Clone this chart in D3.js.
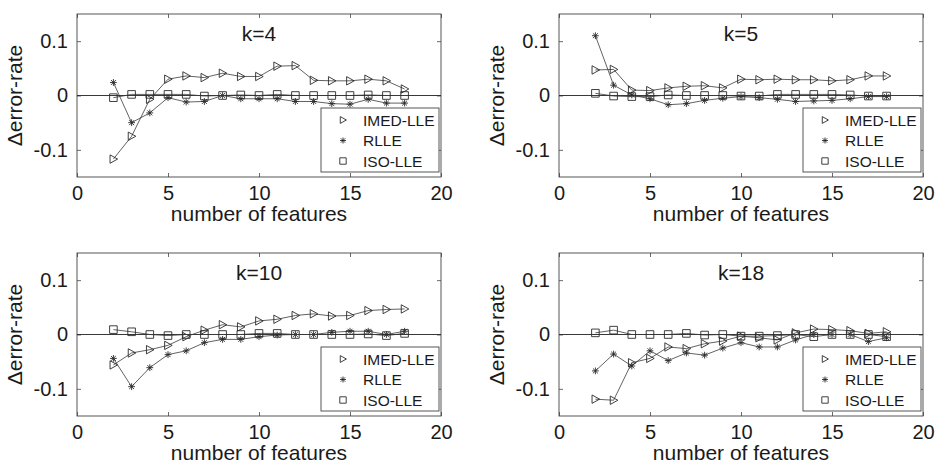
<!DOCTYPE html>
<html>
<head>
<meta charset="utf-8">
<script src="https://cdn.jsdelivr.net/npm/d3@7"></script>
<style>
  html, body { margin: 0; padding: 0; background: #fff; }
  svg { display: block; font-family: "Liberation Sans", Arial, sans-serif; }
</style>
</head>
<body>
<svg id="chart" width="937" height="463"></svg>
<script>
// Number of retained features (x axis), shared by every panel
const featureCounts = [2, 3, 4, 5, 6, 7, 8, 9, 10, 11, 12, 13, 14, 15, 16, 17, 18];

const methodNames = ["IMED-LLE", "RLLE", "ISO-LLE"];
const panelTitles = ["k=4", "k=5", "k=10", "k=18"];

const xTicks = [0, 5, 10, 15, 20];
const yTicks = [-0.1, 0, 0.1];
const yTickLabels = ["-0.1", "0", "0.1"];

// Change in error rate for each method, k = 4
const imedK4 = [-0.117, -0.075, -0.007, 0.030, 0.036, 0.033, 0.041, 0.035, 0.035, 0.054, 0.055, 0.028, 0.027, 0.027, 0.030, 0.027, 0.012];
const rlleK4 = [0.024, -0.050, -0.032, -0.004, -0.012, -0.011, 0.000, -0.006, -0.006, -0.006, -0.011, -0.011, -0.015, -0.016, -0.007, -0.014, -0.014];
const isoK4  = [-0.004, 0.002, 0.002, 0.002, 0.002, -0.001, 0.000, 0.001, 0.000, 0.002, 0.000, 0.000, 0.000, 0.000, 0.001, 0.000, 0.000];

// k = 5
const imedK5 = [0.047, 0.048, 0.010, 0.009, 0.014, 0.017, 0.018, 0.014, 0.030, 0.029, 0.030, 0.029, 0.029, 0.027, 0.029, 0.036, 0.036];
const rlleK5 = [0.110, 0.019, 0.001, -0.006, -0.017, -0.015, -0.009, -0.005, -0.002, -0.004, -0.007, -0.011, -0.010, -0.009, -0.006, -0.002, -0.002];
const isoK5  = [0.004, -0.001, -0.002, -0.002, 0.001, 0.000, 0.000, 0.000, -0.001, -0.001, 0.002, 0.002, 0.002, 0.002, 0.001, -0.001, -0.001];

// k = 10
const imedK10 = [-0.056, -0.034, -0.028, -0.020, -0.004, 0.008, 0.018, 0.014, 0.025, 0.028, 0.035, 0.038, 0.034, 0.035, 0.044, 0.046, 0.047];
const rlleK10 = [-0.044, -0.096, -0.061, -0.037, -0.030, -0.015, -0.009, -0.009, -0.004, -0.001, 0.000, 0.000, 0.004, 0.006, 0.006, 0.000, 0.006];
const isoK10  = [0.009, 0.005, 0.000, -0.002, 0.000, 0.000, 0.000, 0.000, 0.002, 0.002, 0.000, 0.000, 0.000, 0.000, 0.001, -0.002, 0.002];

// k = 18
const imedK18 = [-0.119, -0.121, -0.052, -0.044, -0.023, -0.026, -0.017, -0.012, -0.003, -0.006, -0.010, 0.003, 0.010, 0.009, 0.007, 0.002, 0.005];
const rlleK18 = [-0.067, -0.036, -0.058, -0.030, -0.048, -0.034, -0.038, -0.025, -0.015, -0.023, -0.023, -0.010, 0.000, 0.000, 0.000, -0.013, -0.006];
const isoK18  = [0.003, 0.008, 0.000, 0.000, 0.000, 0.002, -0.001, 0.000, -0.003, -0.003, -0.002, 0.000, -0.004, 0.000, 0.000, 0.000, -0.004];

const panelSeries = [
  [imedK4, rlleK4, isoK4],
  [imedK5, rlleK5, isoK5],
  [imedK10, rlleK10, isoK10],
  [imedK18, rlleK18, isoK18]
];

// Panel placement (plot-area origin of each subplot)
const plotW = 364, plotH = 163;
const origins = [[77, 14], [559, 14], [77, 253], [559, 253]];

const svg = d3.select("#chart");
const ink = "#1a1a1a";
const lineCol = "#3a3a3a";

// Marker path generators
function triRight(s) {
  return `M${-s * 0.8},${-s} L${s},0 L${-s * 0.8},${s} Z`;
}
function asterisk(s) {
  const d = s * 0.72;
  return `M${-s},0 L${s},0 M0,${-s} L0,${s} M${-d},${-d} L${d},${d} M${-d},${d} L${d},${-d}`;
}
function square(s) {
  return `M${-s},${-s} H${s} V${s} H${-s} Z`;
}
const markerPaths = [s => triRight(s), s => asterisk(s), s => square(s)];
const markerSizes = [4.2, 3.4, 3.8];
const legendSizes = [3.4, 3.0, 3.2];

panelSeries.forEach((series, p) => {
  const [ox, oy] = origins[p];
  const g = svg.append("g").attr("transform", `translate(${ox},${oy})`);

  const x = d3.scaleLinear().domain([0, 20]).range([0, plotW]);
  const y = d3.scaleLinear().domain([-0.15, 0.15]).range([plotH, 0]);

  // Inward ticks on all four sides
  const tickLen = 4;
  const axB = d3.axisBottom(x).tickValues(xTicks).tickSize(-tickLen).tickPadding(9).tickFormat(d3.format("d"));
  const axT = d3.axisTop(x).tickValues(xTicks).tickSize(-tickLen).tickFormat("");
  const axL = d3.axisLeft(y).tickValues(yTicks).tickSize(-tickLen).tickPadding(9)
    .tickFormat((d, i) => yTickLabels[i]);
  const axR = d3.axisRight(y).tickValues(yTicks).tickSize(-tickLen).tickFormat("");

  const styleAxis = sel => {
    sel.select(".domain").remove();
    sel.selectAll(".tick line").attr("stroke", "#444").attr("stroke-width", 0.8);
    sel.selectAll(".tick text").attr("fill", ink).attr("font-size", 20)
      .attr("font-family", "'Liberation Sans', Arial, sans-serif");
  };
  g.append("g").attr("transform", `translate(0,${plotH})`).call(axB).call(styleAxis);
  g.append("g").call(axT).call(styleAxis);
  g.append("g").call(axL).call(styleAxis);
  g.append("g").attr("transform", `translate(${plotW},0)`).call(axR).call(styleAxis);

  // Plot frame
  g.append("rect").attr("width", plotW).attr("height", plotH)
    .attr("fill", "none").attr("stroke", "#444").attr("stroke-width", 0.9);

  // Zero reference line
  g.append("line").attr("x1", 0).attr("x2", plotW).attr("y1", y(0)).attr("y2", y(0))
    .attr("stroke", "#222").attr("stroke-width", 0.9);

  // Series lines and markers
  const line = d3.line().x((d, i) => x(featureCounts[i])).y(d => y(d));
  series.forEach((vals, s) => {
    g.append("path").datum(vals).attr("d", line)
      .attr("fill", "none").attr("stroke", lineCol).attr("stroke-width", 0.8);
    g.selectAll(null).data(vals).join("path")
      .attr("transform", (d, i) => `translate(${x(featureCounts[i])},${y(d)})`)
      .attr("d", markerPaths[s](markerSizes[s]))
      .attr("fill", "none").attr("stroke", "#2a2a2a").attr("stroke-width", 0.9);
  });

  // Title inside the axes
  g.append("text").attr("x", x(10)).attr("y", 27).attr("text-anchor", "middle")
    .attr("font-size", 21).attr("fill", ink).text(panelTitles[p]);

  // Legend
  const lw = 118, lh = 64;
  const lg = g.append("g").attr("transform", `translate(${plotW - 2 - lw},${plotH - 5 - lh})`);
  lg.append("rect").attr("width", lw).attr("height", lh)
    .attr("fill", "#fff").attr("stroke", "#444").attr("stroke-width", 0.9);
  methodNames.forEach((name, s) => {
    const cy = 12 + s * 20.5;
    lg.append("path").attr("transform", `translate(22,${cy})`)
      .attr("d", markerPaths[s](legendSizes[s]))
      .attr("fill", "none").attr("stroke", "#2a2a2a").attr("stroke-width", 0.9);
    lg.append("text").attr("x", 42).attr("y", cy + 5.5)
      .attr("font-size", 15.5).attr("fill", ink).text(name);
  });

  // Axis titles
  g.append("text").attr("x", x(10)).attr("y", plotH + 44).attr("text-anchor", "middle")
    .attr("font-size", 21).attr("fill", ink).text("number of features");
  g.append("text").attr("transform", `translate(${-55},${plotH / 2}) rotate(-90)`)
    .attr("text-anchor", "middle").attr("font-size", 21).attr("fill", ink)
    .text("\u0394error-rate");
});
</script>
</body>
</html>
